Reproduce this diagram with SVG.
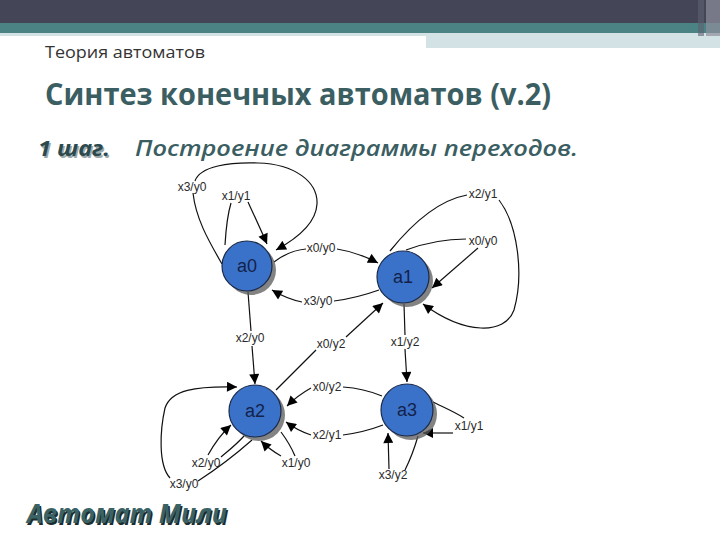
<svg xmlns="http://www.w3.org/2000/svg" width="720" height="540" viewBox="0 0 720 540">
<defs>
<marker id="arr" viewBox="0 0 10 10" refX="10" refY="5" markerWidth="11" markerHeight="10" markerUnits="userSpaceOnUse" orient="auto">
<path d="M0,0 L10,5 L0,10 z" fill="#000"/>
</marker>
<style>
.e{fill:none;stroke:#111;stroke-width:1.2}
.ea{fill:none;stroke:#111;stroke-width:1.2;marker-end:url(#arr)}
.lbl{font-family:"Liberation Sans",Arial,sans-serif;font-size:12px;fill:#2a2a2a;text-anchor:middle}
.nd{fill:#3a72c9;stroke:#1b2a48;stroke-width:1.2}
.sh{fill:#5a5a5a;opacity:0.75}
.nt{font-family:"Liberation Sans",Arial,sans-serif;font-size:18px;fill:#14224a;text-anchor:middle}
</style>
</defs>
<rect width="720" height="540" fill="#fff"/>
<g id="header">
<rect x="0" y="0" width="720" height="23" fill="#444657"/>
<rect x="0" y="23" width="720" height="10" fill="#4b8385"/>
<rect x="0" y="33" width="426" height="3" fill="#d2e2e5"/>
<rect x="426" y="33" width="294" height="15" fill="#d2e2e5"/>
<rect x="698" y="0" width="6" height="36" fill="#5d6070" opacity="0.6"/>
<rect x="706" y="0" width="14" height="36" fill="#8e8f9c" opacity="0.7"/>
</g>
<text x="45" y="58" font-family="'Open Sans','Noto Sans',sans-serif" font-size="17" fill="#333" textLength="160" lengthAdjust="spacingAndGlyphs">Теория автоматов</text>
<text x="45" y="105" font-family="'Open Sans','Noto Sans',sans-serif" font-weight="bold" font-size="30" fill="#3b5e62" textLength="506" lengthAdjust="spacingAndGlyphs">Синтез конечных автоматов (v.2)</text>
<g id="step" font-family="'Open Sans','Noto Sans',sans-serif" font-style="italic" font-size="22">
<text x="39.5" y="157.5" font-weight="bold" fill="#9aa8aa" textLength="72" lengthAdjust="spacingAndGlyphs">1 шаг.</text>
<text x="38" y="156" font-weight="bold" fill="#2c4a4d" textLength="72" lengthAdjust="spacingAndGlyphs">1 шаг.</text>
<text x="135" y="156" font-weight="600" fill="#3b5e62" textLength="443" lengthAdjust="spacingAndGlyphs">Построение диаграммы переходов.</text>
</g>
<g id="connectors">
<g id="e1"><path class="e" d="M222,264 C210,243 196,220 193,193"/><path class="ea" d="M195,181 C200,166 230,162 258,163 C295,164 318,182 317,204 C316,223 298,238 276,250"/><text class="lbl" x="192" y="191">x3/y0</text></g>
<g id="e2"><path class="e" d="M225,245 C226,228 228,213 231,203"/><path class="ea" d="M248,202 C254,215 261,230 267,244"/><text class="lbl" x="236" y="200">x1/y1</text></g>
<g id="e3"><path class="e" d="M274,262 C283,255 295,250 306,249"/><path class="ea" d="M337,249 C350,251 365,256 378,263"/><text class="lbl" x="321" y="252">x0/y0</text></g>
<g id="e4"><path class="e" d="M379,290 C365,295 350,299 334,301"/><path class="ea" d="M302,302 C292,300 282,296 272,290"/><text class="lbl" x="318" y="305">x3/y0</text></g>
<g id="e5"><path class="e" d="M248,292 L251,331"/><path class="ea" d="M252,346 L255,384"/><text class="lbl" x="250" y="342">x2/y0</text></g>
<g id="e6"><path class="e" d="M276,390 L316,350"/><path class="ea" d="M346,337 L383,303"/><text class="lbl" x="331" y="348">x0/y2</text></g>
<g id="e7"><path class="e" d="M382,396 C370,391 358,388 343,387"/><path class="ea" d="M311,388 C302,393 294,399 287,406"/><text class="lbl" x="327" y="391">x0/y2</text></g>
<g id="e8"><path class="e" d="M383,425 C370,430 358,433 343,435"/><path class="ea" d="M311,435 C302,432 294,428 286,422"/><text class="lbl" x="327" y="439">x2/y1</text></g>
<g id="e9"><path class="e" d="M281,432 C287,440 292,449 295,456"/><path class="ea" d="M281,456 C274,452 267,447 261,441"/><text class="lbl" x="296" y="467">x1/y0</text></g>
<g id="e10"><path class="e" d="M244,436 C236,445 228,451 221,457"/><path class="ea" d="M208,455 C213,446 220,435 231,425"/><text class="lbl" x="206" y="467">x2/y0</text></g>
<g id="e11"><path class="e" d="M252,440 C235,455 215,470 198,481"/><path class="ea" d="M170,478 C158,465 160,430 165,408 C171,390 195,386 237,387"/><text class="lbl" x="184" y="488">x3/y0</text></g>
<g id="e12"><path class="e" d="M390,251 C415,220 440,200 467,195"/><path class="ea" d="M499,200 C518,225 524,275 514,310 C505,335 465,335 423,304"/><text class="lbl" x="483" y="198">x2/y1</text></g>
<g id="e13"><path class="e" d="M406,250 C425,243 445,239 466,239"/><path class="ea" d="M478,248 L432,288"/><text class="lbl" x="483" y="245">x0/y0</text></g>
<g id="e14"><path class="e" d="M404,304 L405,335"/><path class="ea" d="M405,349 L407,382"/><text class="lbl" x="405" y="346">x1/y2</text></g>
<g id="e15"><path class="e" d="M433,402 C443,407 455,412 464,418"/><path class="ea" d="M453,433 L423,433"/><text class="lbl" x="469" y="430">x1/y1</text></g>
<g id="e16"><path class="e" d="M418,436 C414,450 409,462 405,470"/><path class="ea" d="M389,469 L388,433"/><text class="lbl" x="393" y="479">x3/y2</text></g>
</g>
<g id="a0"><circle class="sh" cx="251" cy="270" r="25"/><circle class="nd" cx="247" cy="266" r="25"/><text class="nt" x="247" y="272">a0</text></g>
<g id="a1"><circle class="sh" cx="407" cy="281" r="26"/><circle class="nd" cx="403" cy="277" r="26"/><text class="nt" x="403" y="283">a1</text></g>
<g id="a2"><circle class="sh" cx="259" cy="415" r="26"/><circle class="nd" cx="255" cy="411" r="26"/><text class="nt" x="255" y="417">a2</text></g>
<g id="a3"><circle class="sh" cx="411" cy="414" r="26"/><circle class="nd" cx="407" cy="410" r="26"/><text class="nt" x="407" y="416">a3</text></g>
<g id="footer" font-family="'Open Sans','Noto Sans',sans-serif" font-style="italic" font-weight="bold" font-size="26">
<text x="28.5" y="524.5" fill="#1c2c2e" textLength="200" lengthAdjust="spacingAndGlyphs">Автомат Мили</text>
<text x="27" y="523" fill="#3b6366" textLength="200" lengthAdjust="spacingAndGlyphs">Автомат Мили</text>
</g>
</svg>
